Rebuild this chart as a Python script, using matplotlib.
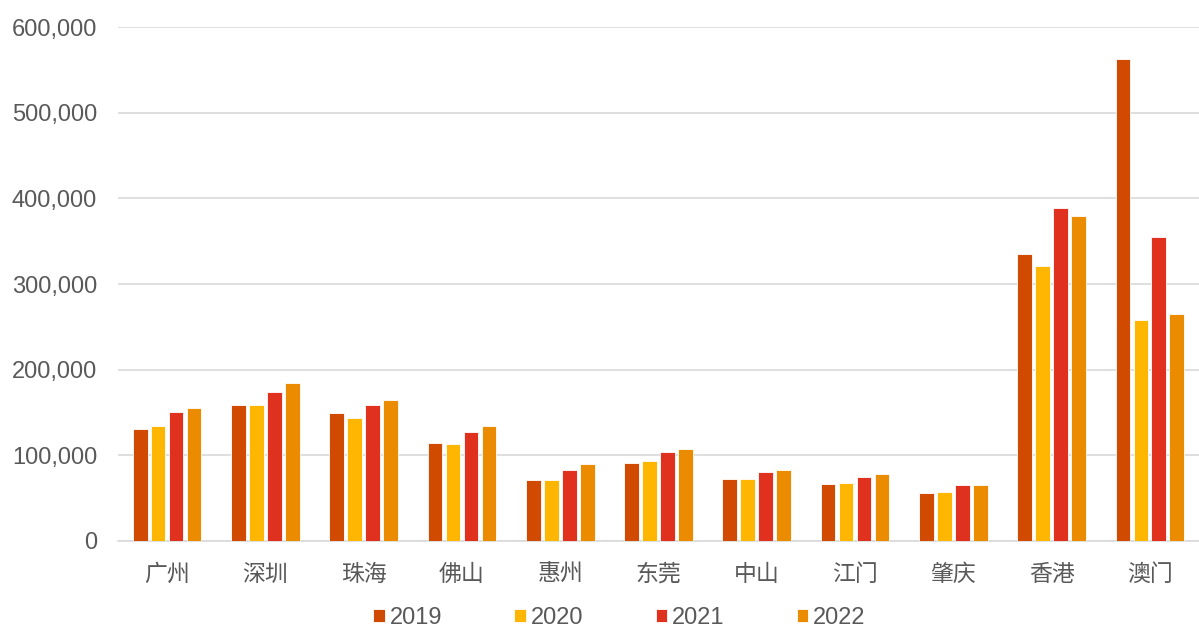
import numpy as np
import matplotlib.pyplot as plt
from matplotlib.ticker import FuncFormatter

plt.rcParams['font.family'] = ['Liberation Sans', 'Noto Sans CJK SC', 'DejaVu Sans']

cities = ['广州', '深圳', '珠海', '佛山', '惠州', '东莞', '中山', '江门', '肇庆', '香港', '澳门']
years = ['2019', '2020', '2021', '2022']
v2019 = [131000, 159000, 149000, 114000, 71000, 91000, 72000, 66000, 56000, 335000, 563000]
v2020 = [134000, 159000, 144000, 113000, 71000, 93000, 72000, 67500, 57000, 321000, 258000]
v2021 = [151000, 174000, 159000, 127000, 83000, 104000, 80000, 74500, 65000, 388500, 354500]
v2022 = [155000, 184000, 164000, 134000, 90000, 107000, 83000, 78000, 65500, 379500, 264500]
colors = ['#D04A02', '#FFB600', '#E0301E', '#EB8C00']

fig = plt.figure(figsize=(11.99, 6.34), dpi=100)
ax = fig.add_axes([0.0984, 0.147, 0.9016, 0.81])

x = np.arange(len(cities))
step = 0.183
width = 0.15
for i, vals in enumerate([v2019, v2020, v2021, v2022]):
    ax.bar(x + (i - 1.5) * step, vals, width, color=colors[i], label=years[i],
           edgecolor='white', linewidth=0.6, zorder=3)

ax.set_xlim(-0.5, len(cities) - 0.5)
ax.set_ylim(0, 600000)
ax.set_yticks(np.arange(0, 600001, 100000))
ax.yaxis.set_major_formatter(FuncFormatter(lambda v, p: '{:,.0f}'.format(v)))
ax.grid(axis='y', color='#D9D9D9', linewidth=1.2, zorder=0)
ax.set_xticks(x)
ax.set_xticklabels(cities, family=['Noto Sans CJK SC', 'DejaVu Sans'])
ax.tick_params(axis='both', length=0, labelcolor='#595959')
ax.tick_params(axis='x', pad=16, labelsize=16.5)
ax.tick_params(axis='y', pad=15, labelsize=17)
for s in ['top', 'right', 'left']:
    ax.spines[s].set_visible(False)
ax.spines['bottom'].set_color('#D9D9D9')
ax.spines['bottom'].set_linewidth(1.2)

leg = fig.legend(loc='center', bbox_to_anchor=(0.5167, 0.025), ncol=4, frameon=False,
                 fontsize=17, handlelength=0.5, handleheight=0.5, handletextpad=0.2,
                 columnspacing=3.05, borderpad=0)
for t in leg.get_texts():
    t.set_color('#595959')

plt.savefig('out.png', dpi=100)
